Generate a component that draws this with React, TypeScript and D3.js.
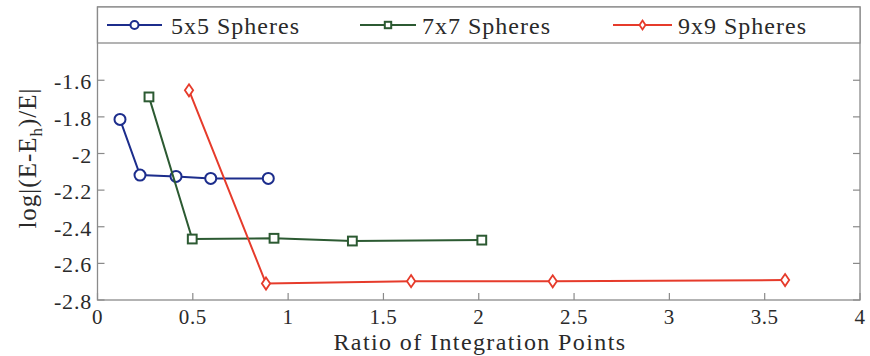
import React from "react";
import * as d3 from "d3";

// Relative error vs. ratio of integration points, one series per sphere grid
const ratio5 = [0.118, 0.223, 0.412, 0.594, 0.896];
const err5 = [-1.814, -2.118, -2.125, -2.136, -2.136];
const ratio7 = [0.27, 0.497, 0.926, 1.337, 2.016];
const err7 = [-1.691, -2.467, -2.463, -2.478, -2.473];
const ratio9 = [0.48, 0.884, 1.645, 2.388, 3.607];
const err9 = [-1.655, -2.71, -2.697, -2.698, -2.691];

const seriesNames = ["5x5 Spheres", "7x7 Spheres", "9x9 Spheres"];
const xTicks = [0, 0.5, 1, 1.5, 2, 2.5, 3, 3.5, 4];
const yTicks = [-2.8, -2.6, -2.4, -2.2, -2, -1.8, -1.6];

const W = 870;
const H = 356;
const left = 97.5;
const right = 860;
const top = 7;
const bottom = 300;
const legendBottom = 43;

const FONT = "'Liberation Serif', 'DejaVu Serif', serif";
const AXIS = "#8a8a8a";
const TEXT = "#2a2a2a";

type Series = { name: string; xs: number[]; ys: number[]; color: string; marker: "circle" | "square" | "diamond" };

const series: Series[] = [
  { name: seriesNames[0], xs: ratio5, ys: err5, color: "#1c2d8c", marker: "circle" },
  { name: seriesNames[1], xs: ratio7, ys: err7, color: "#2c5a32", marker: "square" },
  { name: seriesNames[2], xs: ratio9, ys: err9, color: "#e63b2b", marker: "diamond" },
];

function Marker({ kind, x, y, color, s }: { kind: string; x: number; y: number; color: string; s: number }) {
  if (kind === "circle") {
    return <circle cx={x} cy={y} r={s} fill="white" stroke={color} strokeWidth={2} />;
  }
  if (kind === "square") {
    const h = s * 0.8;
    return <rect x={x - h} y={y - h} width={2 * h} height={2 * h} fill="white" stroke={color} strokeWidth={2} />;
  }
  const w = s * 0.75;
  const h = s * 1.1;
  return (
    <path
      d={`M${x},${y - h}L${x + w},${y}L${x},${y + h}L${x - w},${y}Z`}
      fill="white"
      stroke={color}
      strokeWidth={1.8}
    />
  );
}

// legend entry layout: sample line start/end and label start
const legendLayout = [
  { x0: 107, x1: 162, tx: 171 },
  { x0: 360, x1: 416, tx: 422 },
  { x0: 613, x1: 672, tx: 678 },
];

export default function App() {
  const x = d3.scaleLinear().domain([0, 4]).range([left, right]);
  const y = d3.scaleLinear().domain([-2.8, -1.2]).range([bottom, top]);
  const line = d3
    .line<[number, number]>()
    .x((d) => x(d[0]))
    .y((d) => y(d[1]));

  const legendY = 25;

  return (
    <svg width={W} height={H} style={{ position: "absolute", left: 0, top: 0, background: "white" }}>
      <rect x={0} y={0} width={W} height={H} fill="white" />

      {/* plot area frame */}
      <rect x={left} y={top} width={right - left} height={bottom - top} fill="white" stroke={AXIS} strokeWidth={1.3} />

      {/* x ticks and labels */}
      {xTicks.map((t) => (
        <g key={"x" + t}>
          <line x1={x(t)} x2={x(t)} y1={bottom} y2={bottom - 7} stroke={AXIS} strokeWidth={1.2} />
          <text x={x(t)} y={324} textAnchor="middle" fontFamily={FONT} fontSize={21} letterSpacing={0.6} fill={TEXT}>
            {String(t)}
          </text>
        </g>
      ))}

      {/* y ticks and labels, mirrored on the right edge */}
      {yTicks.map((t) => (
        <g key={"y" + t}>
          <line x1={left} x2={left + 7} y1={y(t)} y2={y(t)} stroke={AXIS} strokeWidth={1.2} />
          <line x1={right} x2={right - 7} y1={y(t)} y2={y(t)} stroke={AXIS} strokeWidth={1.2} />
          <text x={92} y={y(t) + 9} textAnchor="end" fontFamily={FONT} fontSize={22} letterSpacing={0.8} fill={TEXT}>
            {String(t)}
          </text>
        </g>
      ))}

      {/* data series */}
      {series.map((s) => {
        const pts = s.xs.map((v, i) => [v, s.ys[i]] as [number, number]);
        return (
          <g key={s.name}>
            <path d={line(pts) || ""} fill="none" stroke={s.color} strokeWidth={2} />
            {pts.map((p, i) => (
              <Marker key={i} kind={s.marker} x={x(p[0])} y={y(p[1])} color={s.color} s={5.5} />
            ))}
          </g>
        );
      })}

      {/* legend strip across the top of the plot */}
      <rect x={left} y={top} width={right - left} height={legendBottom - top} fill="white" stroke={AXIS} strokeWidth={1.3} />
      {series.map((s, i) => {
        const L = legendLayout[i];
        return (
          <g key={"lg" + i}>
            <line x1={L.x0} x2={L.x1} y1={legendY} y2={legendY} stroke={s.color} strokeWidth={2} />
            <Marker kind={s.marker} x={(L.x0 + L.x1) / 2} y={legendY} color={s.color} s={4} />
            <text x={L.tx} y={34} fontFamily={FONT} fontSize={24} letterSpacing={1} fill={TEXT}>
              {s.name}
            </text>
          </g>
        );
      })}

      {/* axis titles */}
      <text
        x={480}
        y={350}
        textAnchor="middle"
        fontFamily={FONT}
        fontSize={24}
        letterSpacing={1.4}
        fill={TEXT}
      >
        Ratio of Integration Points
      </text>
      <text
        transform={`translate(36, 158) rotate(-90)`}
        textAnchor="middle"
        fontFamily={FONT}
        fontSize={25}
        letterSpacing={1}
        fill={TEXT}
      >
        <tspan>log|(E-E</tspan>
        <tspan fontSize={17} dy={6}>h</tspan>
        <tspan dy={-6}>)/E|</tspan>
      </text>
    </svg>
  );
}
